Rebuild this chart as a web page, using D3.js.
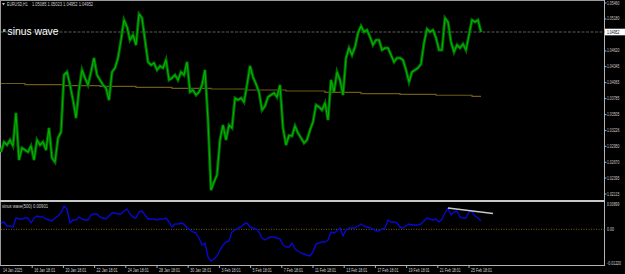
<!DOCTYPE html>
<html><head><meta charset="utf-8">
<script src="https://cdn.jsdelivr.net/npm/d3@7"></script>
<style>html,body{margin:0;padding:0;background:#000;overflow:hidden}svg{display:block}</style>
</head><body>
<script>
// ---------- DATA ----------
const symbolTitle = "EURUSD,H1";
const ohlcText = "1.05085 1.05023 1.04952 1.04952";
const chartLabel = "sinus wave";
const indicatorTitle = "sinus wave(500) 0.00901";
const lastPrice = 1.04952;
const priceMin = 1.02115, priceMax = 1.05460;
const priceTicks = ["1.05460","1.05180","1.04620","1.04345","1.04065","1.03785","1.03505","1.03226","1.02950","1.02670","1.02395","1.02115"];
const timeLabels = ["14 Jan 2025","16 Jan 18:01","20 Jan 18:01","22 Jan 18:01","24 Jan 18:01","28 Jan 18:01","30 Jan 18:01","3 Feb 18:01","5 Feb 18:01","7 Feb 18:01","11 Feb 18:01","13 Feb 18:01","17 Feb 18:01","19 Feb 18:01","21 Feb 18:01","25 Feb 18:01"];
const samplesPerLabel = 10.4;
const closes = [
1.02851,1.03026,1.02973,1.03061,1.02956,1.03534,1.02711,1.02921,1.02886,1.02851,
1.02956,1.02711,1.03061,1.02973,1.03026,1.02886,1.03271,1.02746,1.02675,1.03096,
1.03201,1.04199,1.04252,1.04024,1.03761,1.03446,1.03936,1.04287,1.04147,1.04024,
1.04252,1.04497,1.04199,1.04112,1.04024,1.03971,1.03761,1.04252,1.04322,1.04497,
1.04812,1.05162,1.05040,1.04812,1.04900,1.04725,1.05267,1.05197,1.04812,1.04427,
1.04374,1.04409,1.04287,1.04357,1.04322,1.04462,1.04112,1.04147,1.04199,1.04112,
1.04252,1.04199,1.04427,1.03901,1.03936,1.03849,1.03901,1.04024,1.04287,1.03411,
1.02185,1.02325,1.02448,1.03061,1.03323,1.03061,1.03323,1.03271,1.03796,1.03761,
1.03796,1.03726,1.04024,1.04357,1.04164,1.04041,1.03901,1.03586,1.03656,1.03814,
1.03849,1.03884,1.03814,1.04024,1.03271,1.02973,1.03140,1.03131,1.03306,1.03183,
1.03096,1.03008,1.03061,1.03236,1.03376,1.03674,1.03639,1.03586,1.03709,1.03411,
1.04112,1.03901,1.04252,1.04112,1.03849,1.04497,1.04672,1.04549,1.04689,1.04935,
1.05057,1.04952,1.04987,1.04865,1.04725,1.04812,1.04812,1.04637,1.04672,1.04672,
1.04549,1.04427,1.04497,1.04497,1.04462,1.04287,1.04077,1.04252,1.04287,1.04322,
1.04392,1.04760,1.05005,1.04952,1.04987,1.04847,1.04637,1.04637,1.05197,1.05127,
1.04777,1.04602,1.04725,1.04672,1.04742,1.04637,1.04900,1.05162,1.05127,1.05162,
1.04952];
const maIdx  = [0, 8, 21, 33, 45, 57, 70, 82, 95, 108, 120, 133, 145, 157, 160];
const maVals = [1.04050,1.04029,1.04012,1.04001,1.03984,1.03966,1.03954,1.03936,1.03919,1.03896,1.03872,1.03861,1.03844,1.03826,1.03826];
const sinus = [
0.00215,0.00250,0.00113,0.00113,0.00079,0.00386,0.00352,0.00352,0.00386,0.00386,
0.00215,0.00386,0.00455,0.00420,0.00420,0.00352,0.00318,0.00284,0.00386,0.00455,
0.00557,0.00796,0.00694,0.00215,0.00318,0.00318,0.00420,0.00352,0.00318,0.00318,
0.00489,0.00523,0.00523,0.00420,0.00386,0.00352,0.00455,0.00557,0.00557,0.00523,
0.00523,0.00625,0.00694,0.00523,0.00420,0.00386,0.00591,0.00625,0.00489,0.00352,
0.00352,0.00352,0.00318,0.00352,0.00352,0.00386,0.00250,0.00079,0.00181,0.00181,
0.00215,0.00181,0.00044,-0.00024,-0.00092,-0.00126,-0.00297,-0.00537,-0.00468,-0.00947,
-0.01084,-0.01015,-0.00913,-0.00708,-0.00537,-0.00434,-0.00400,-0.00092,-0.00024,0.00044,
0.00079,0.00181,0.00215,0.00079,0.00044,0.00010,-0.00092,-0.00297,-0.00366,-0.00297,
-0.00263,-0.00263,-0.00297,-0.00332,-0.00537,-0.00605,-0.00605,-0.00468,-0.00673,-0.00742,
-0.00810,-0.00844,-0.00878,-0.00913,-0.00776,-0.00502,-0.00468,-0.00434,-0.00434,-0.00366,
-0.00092,-0.00126,-0.00058,0.00044,-0.00229,-0.00024,0.00044,0.00044,0.00044,0.00113,
0.00181,0.00113,0.00079,0.00044,0.00010,-0.00058,-0.00058,0.00010,0.00044,0.00318,
0.00250,0.00250,0.00215,0.00079,0.00044,0.00113,0.00181,0.00147,0.00147,0.00147,
0.00181,0.00284,0.00386,0.00352,0.00318,0.00352,0.00250,0.00352,0.00557,0.00728,
0.00489,0.00591,0.00625,0.00420,0.00386,0.00386,0.00591,0.00625,0.00455,0.00386,
0.00284];
const indMin = -0.01220, indMax = 0.00899;
const indLabels = ["0.00899","0.00","-0.01220"];
const indLabelVals = [0.00899, 0, -0.01220];
const trendIdx = [149, 164];
const trendVals = [0.00728, 0.00540];

// ---------- DRAW ----------
const W = 625, H = 274;
const svg = d3.select("body").append("svg").attr("width", W).attr("height", H)
  .style("background", "#000");
const axisX = 604.5;
const x = d3.scaleLinear().domain([0, closes.length - 1]).range([1, 481]);
const y = d3.scaleLinear().domain([priceMin, priceMax]).range([194, 3]);
const yi = d3.scaleLinear().domain([indMin, indMax]).range([265, 203]);
const txtCol = "#d0d0d0";

function tiny(g, tx, ty, str, perChar, fill, size) {
  return g.append("text").attr("x", tx).attr("y", ty)
    .attr("font-family", "Liberation Sans, Arial, sans-serif")
    .attr("font-size", size || 4.6).attr("fill", fill || txtCol)
    .attr("dominant-baseline", "central")
    .attr("textLength", str.length * perChar).attr("lengthAdjust", "spacingAndGlyphs")
    .text(str);
}

// borders / frames
svg.append("line").attr("x1", 0).attr("x2", axisX).attr("y1", 0.5).attr("y2", 0.5).attr("stroke", "#9a9a9a");
svg.append("line").attr("x1", 0.5).attr("x2", 0.5).attr("y1", 0).attr("y2", 266).attr("stroke", "#9a9a9a");
svg.append("line").attr("x1", axisX).attr("x2", axisX).attr("y1", 0).attr("y2", 266).attr("stroke", "#b4b4b4");
svg.append("rect").attr("x", 0).attr("y", 200).attr("width", axisX).attr("height", 2).attr("fill", "#c8c8c8");
svg.append("line").attr("x1", 0).attr("x2", axisX).attr("y1", 265.5).attr("y2", 265.5).attr("stroke", "#b4b4b4");

// bid dashed line
svg.append("line").attr("x1", 1).attr("x2", axisX).attr("y1", y(lastPrice)).attr("y2", y(lastPrice))
  .attr("stroke", "#4e634e").attr("stroke-dasharray", "3,1.5");

// MA line (stepped)
const maPts = maIdx.map((d, i) => [d, maVals[i]]);
svg.append("path").attr("d", d3.line().x(d => x(d[0])).y(d => y(d[1])).curve(d3.curveStepAfter)(maPts))
  .attr("fill", "none").attr("stroke", "#6e5a18").attr("stroke-width", 1.2);

// price line: dense-bar look = dark wide underlay + brighter core
const priceLine = d3.line().x((d, i) => x(i)).y(d => y(d));
svg.append("path").attr("d", priceLine(closes))
  .attr("fill", "none").attr("stroke", "#006a00").attr("stroke-width", 3).attr("stroke-linejoin", "miter");
svg.append("path").attr("d", priceLine(closes))
  .attr("fill", "none").attr("stroke", "#00b400").attr("stroke-width", 1.1).attr("stroke-linejoin", "round");

// header
svg.append("path").attr("d", "M2,3 L5,3 L3.5,5.5 Z").attr("fill", "#c0c0c0");
tiny(svg, 7, 4.5, symbolTitle, 2.3);
tiny(svg, 32, 4.5, ohlcText, 1.97);

// "sinus wave" label
svg.append("rect").attr("x", 3).attr("y", 29).attr("width", 2.5).attr("height", 3).attr("fill", "#a0a0a0");
svg.append("text").attr("x", 7.5).attr("y", 34.5).attr("font-family", "Liberation Sans, Arial, sans-serif")
  .attr("font-size", 11.5).attr("fill", "#ffffff").attr("textLength", 51).attr("lengthAdjust", "spacingAndGlyphs")
  .text(chartLabel);

// price axis labels
priceTicks.forEach(t => {
  const py = y(+t);
  svg.append("line").attr("x1", axisX).attr("x2", axisX + 2).attr("y1", py).attr("y2", py).attr("stroke", "#b4b4b4");
  tiny(svg, 607, py, t, 1.76);
});
svg.append("rect").attr("x", 605).attr("y", y(lastPrice) - 3.3).attr("width", 20).attr("height", 6.6).attr("fill", "#ffffff");
tiny(svg, 607, y(lastPrice), lastPrice.toFixed(5), 1.76, "#000000");

// indicator window
svg.append("line").attr("x1", 1).attr("x2", axisX).attr("y1", yi(0)).attr("y2", yi(0))
  .attr("stroke", "#7d6516").attr("stroke-dasharray", "1,1.5");
svg.append("path").attr("d", d3.line().x((d, i) => x(i)).y(d => yi(d))(sinus))
  .attr("fill", "none").attr("stroke", "#0808d0").attr("stroke-width", 1.4).attr("stroke-linejoin", "round");
svg.append("line").attr("x1", x(trendIdx[0])).attr("x2", x(trendIdx[1]))
  .attr("y1", yi(trendVals[0])).attr("y2", yi(trendVals[1]))
  .attr("stroke", "#c8c8c8").attr("stroke-width", 1.3);
tiny(svg, 2, 206, indicatorTitle, 2.0);
indLabels.forEach((t, i) => {
  let py = yi(indLabelVals[i]);
  if (i === 0) py = 204.6;
  if (i === 2) py = 263;
  tiny(svg, 607, py, t, 1.76);
});

// time axis
timeLabels.forEach((t, k) => {
  const tx = x(k * samplesPerLabel);
  if (k > 0) svg.append("line").attr("x1", tx).attr("x2", tx).attr("y1", 265.5).attr("y2", 268).attr("stroke", "#b4b4b4");
  tiny(svg, tx + 2, 270.2, t, 1.75);
});
</script>
</body></html>
